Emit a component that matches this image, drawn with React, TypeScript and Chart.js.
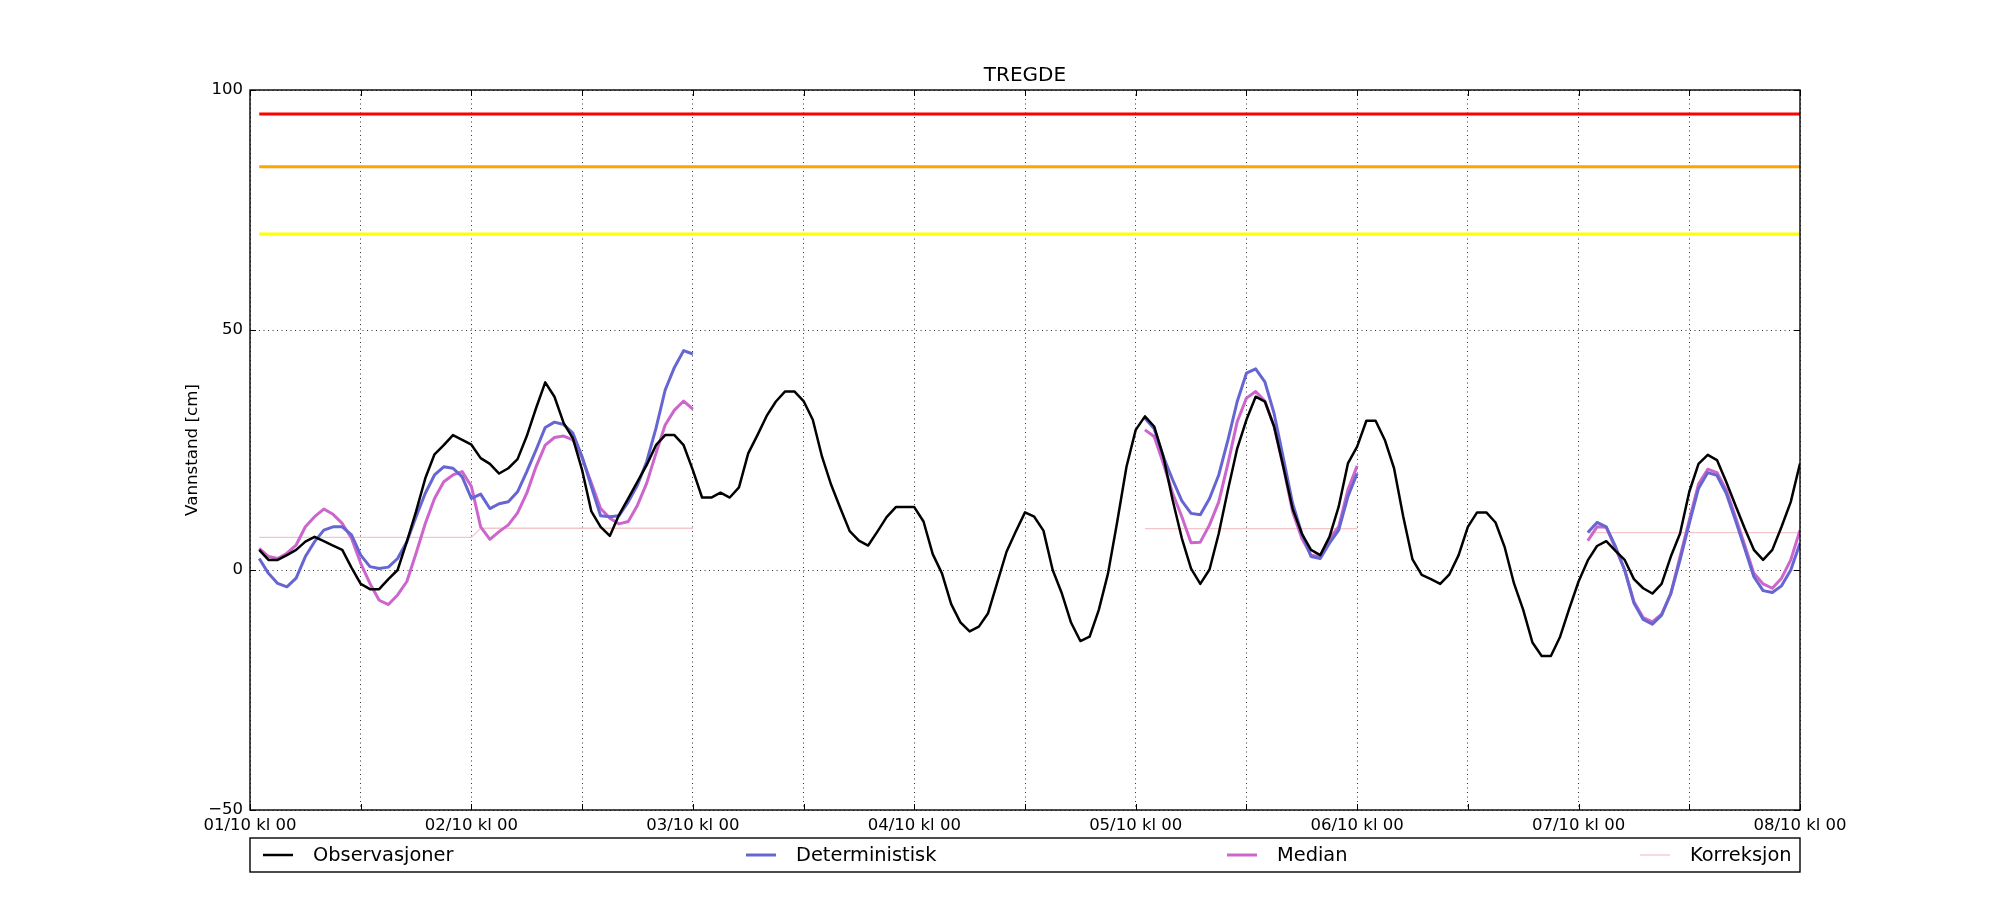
import { useEffect, useRef } from "react";
import { Chart, registerables } from "chart.js";

Chart.register(...registerables);

// x axis is hours since 01/10 kl 00
const dayLabels = [
	"01/10 kl 00",
	"02/10 kl 00",
	"03/10 kl 00",
	"04/10 kl 00",
	"05/10 kl 00",
	"06/10 kl 00",
	"07/10 kl 00",
	"08/10 kl 00",
];

const chartTitle = "TREGDE";
const yTitle = "Vannstand [cm]";

// hourly observations, hour 1 .. 168
const obsStart = 1;
const observasjoner = [
	4.2, 2.1, 2.1, 3.1, 4.2, 5.9, 6.9, 6.0, 5.1, 4.2,
	0.5, -2.9, -4.0, -4.0, -1.9, 0.0, 5.9, 12.2, 19.1, 24.1,
	26.0, 28.1, 27.1, 26.1, 23.3, 22.1, 20.1, 21.2, 23.1, 27.9,
	33.7, 39.1, 36.1, 30.6, 27.4, 20.8, 12.2, 9.0, 7.1, 11.5,
	14.9, 18.4, 21.9, 26.0, 28.1, 28.1, 26.0, 20.8, 15.1, 15.1,
	16.1, 15.1, 17.2, 24.3, 28.1, 32.1, 35.1, 37.2, 37.2, 35.2,
	31.3, 23.6, 17.7, 12.8, 8.1, 6.1, 5.1, 8.0, 11.0, 13.1,
	13.1, 13.1, 10.1, 3.3, -0.7, -7.1, -10.9, -12.8, -11.8, -9.0,
	-2.6, 3.8, 8.0, 12.0, 11.1, 8.2, 0.0, -4.9, -11.0, -14.8,
	-13.9, -8.3, -0.7, 10.1, 21.5, 29.2, 32.0, 29.9, 23.6, 14.6,
	6.6, 0.3, -2.9, 0.1, 7.6, 16.7, 25.3, 31.3, 36.1, 35.1,
	29.9, 21.5, 12.8, 7.6, 4.2, 3.1, 6.9, 13.2, 22.2, 25.7,
	31.1, 31.1, 27.1, 21.2, 11.1, 2.2, -1.0, -1.9, -2.9, -0.9,
	3.1, 9.0, 12.0, 12.0, 9.9, 4.7, -2.8, -8.3, -15.1, -17.9,
	-17.9, -13.9, -8.0, -2.4, 2.0, 5.0, 6.0, 4.0, 2.1, -1.9,
	-3.8, -4.9, -2.9, 2.8, 7.6, 16.3, 22.1, 24.0, 22.9, 18.4,
	13.5, 8.7, 4.2, 2.1, 4.2, 9.0, 14.2, 22.2,
];

// forecast runs: start hours
const seg1Start = 1;
const seg2Start = 97;
const seg3Start = 145;

const deterministiskSeg1 = [
	2.4, -0.7, -2.8, -3.5, -1.7, 2.8, 5.9, 8.3, 9.0, 9.0,
	7.3, 3.1, 0.7, 0.3, 0.6, 2.4, 5.9, 11.1, 16.0, 19.8,
	21.5, 21.2, 19.4, 14.9, 15.8, 12.8, 13.8, 14.2, 16.3, 20.5,
	25.0, 29.7, 30.8, 30.3, 28.5, 23.6, 17.4, 11.3, 11.1, 11.3,
	14.2, 17.7, 22.6, 29.5, 37.5, 42.2, 45.7, 45.0,
];
const deterministiskSeg2 = [
	31.6, 29.4, 23.6, 18.8, 14.4, 11.8, 11.5, 14.9, 19.8, 27.1,
	35.1, 41.0, 41.9, 39.2, 32.6, 23.3, 13.9, 7.6, 2.8, 2.4,
	5.6, 8.3, 15.3, 20.1,
];
const deterministiskSeg3 = [
	7.8, 9.9, 9.0, 4.9, 0.0, -6.9, -10.3, -11.3, -9.4, -4.9,
	2.1, 9.7, 17.0, 20.3, 19.7, 16.0, 10.4, 4.5, -1.4, -4.3,
	-4.7, -3.3, 0.0, 5.6,
];

const medianSeg1 = [
	4.5, 2.8, 2.4, 3.5, 5.2, 9.0, 11.1, 12.7, 11.6, 9.7,
	6.6, 1.4, -2.8, -6.3, -7.2, -5.2, -2.4, 3.5, 9.7, 14.9,
	18.4, 19.8, 20.5, 17.4, 9.0, 6.4, 8.0, 9.4, 11.9, 16.0,
	21.5, 26.0, 27.6, 27.9, 27.1, 23.3, 18.1, 12.8, 10.8, 9.6,
	10.1, 13.5, 18.1, 24.3, 30.2, 33.3, 35.2, 33.5,
];
const medianSeg2 = [
	29.2, 27.8, 22.2, 16.0, 11.1, 5.7, 5.8, 9.4, 14.2, 22.2,
	30.9, 35.8, 37.2, 35.2, 29.9, 21.5, 12.2, 6.6, 3.1, 2.8,
	6.6, 9.0, 16.7, 21.7,
];
const medianSeg3 = [
	6.1, 9.0, 8.9, 4.5, 0.0, -6.6, -9.9, -10.8, -9.2, -4.9,
	2.8, 10.4, 17.9, 21.0, 20.3, 16.7, 11.1, 5.2, -0.7, -2.9,
	-3.8, -1.7, 2.1, 8.3,
];

const korrSeg1Hours = [1, 24, 25, 48];
const korrSeg1 = [6.8, 6.8, 8.7, 8.7];
const korrSeg2Hours = [97, 120];
const korrSeg2 = [8.6, 8.6];
const korrSeg3Hours = [145, 168];
const korrSeg3 = [7.8, 7.8];

// warning levels (cm)
const thresholdHours = [1, 168];
const thresholdLevels = [95, 84, 70];
const thresholdColors = ["#ff0000", "#ffa500", "#ffff00"];

const FONT = "'DejaVu Sans', sans-serif";

type Pt = { x: number; y: number | null };

const run = (start: number, values: number[]): Pt[] =>
	values.map((v, i) => ({ x: start + i, y: v }));
const pairs = (hours: number[], values: number[]): Pt[] =>
	hours.map((h, i) => ({ x: h, y: values[i] }));
// join segments with a null point so the line breaks between runs
const joinRuns = (runs: Pt[][]): Pt[] => {
	const out: Pt[] = [];
	runs.forEach((r, i) => {
		if (i > 0) out.push({ x: r[0].x - 0.5, y: null });
		out.push(...r);
	});
	return out;
};

const legendX = [263, 746, 1227, 1640];

const decorPlugin = {
	id: "decor",
	afterDraw(chart: any) {
		const { ctx, chartArea: a, scales } = chart;
		ctx.save();
		ctx.strokeStyle = "#000";
		ctx.lineWidth = 1.4;
		ctx.strokeRect(a.left, a.top, a.right - a.left, a.bottom - a.top);

		// inward ticks, matplotlib classic style
		ctx.lineWidth = 1;
		ctx.beginPath();
		scales.x.ticks.forEach((t: any) => {
			const px = Math.round(scales.x.getPixelForValue(t.value)) + 0.5;
			ctx.moveTo(px, a.bottom);
			ctx.lineTo(px, a.bottom - 6);
			ctx.moveTo(px, a.top);
			ctx.lineTo(px, a.top + 6);
		});
		scales.y.ticks.forEach((t: any) => {
			const py = Math.round(scales.y.getPixelForValue(t.value)) + 0.5;
			ctx.moveTo(a.left, py);
			ctx.lineTo(a.left + 6, py);
			ctx.moveTo(a.right, py);
			ctx.lineTo(a.right - 6, py);
		});
		ctx.stroke();

		ctx.fillStyle = "#000";
		ctx.font = `20px ${FONT}`;
		ctx.textAlign = "center";
		ctx.textBaseline = "bottom";
		ctx.fillText(chartTitle, (a.left + a.right) / 2, a.top - 4);

		ctx.save();
		ctx.translate(193, (a.top + a.bottom) / 2);
		ctx.rotate(-Math.PI / 2);
		ctx.font = `16.7px ${FONT}`;
		ctx.textBaseline = "middle";
		ctx.fillText(yTitle, 0, 0);
		ctx.restore();

		// legend box below the x axis
		const top = 838;
		const bottom = 872;
		const mid = (top + bottom) / 2;
		ctx.lineWidth = 1.4;
		ctx.strokeRect(a.left, top, a.right - a.left, bottom - top);
		ctx.font = `19.4px ${FONT}`;
		ctx.textAlign = "left";
		ctx.textBaseline = "middle";
		chart.data.datasets.slice(0, 4).forEach((ds: any, i: number) => {
			const x0 = legendX[i];
			ctx.strokeStyle = ds.borderColor;
			ctx.lineWidth = ds.borderWidth;
			ctx.beginPath();
			ctx.moveTo(x0, mid);
			ctx.lineTo(x0 + 30, mid);
			ctx.stroke();
			ctx.fillStyle = "#000";
			ctx.fillText(ds.label, x0 + 50, mid + 1);
		});
		ctx.restore();
	},
};

export default function App() {
	const chartRef = useRef<HTMLCanvasElement>(null);

	useEffect(() => {
		if (!chartRef.current) return;

		const lineStyle = {
			pointRadius: 0,
			pointHoverRadius: 0,
			tension: 0,
			fill: false,
			spanGaps: false,
			borderJoinStyle: "round" as const,
		};

		const chart = new Chart(chartRef.current, {
			type: "line",
			data: {
				datasets: [
					{
						label: "Observasjoner",
						data: run(obsStart, observasjoner),
						borderColor: "#000000",
						borderWidth: 2.5,
						...lineStyle,
					},
					{
						label: "Deterministisk",
						data: joinRuns([
							run(seg1Start, deterministiskSeg1),
							run(seg2Start, deterministiskSeg2),
							run(seg3Start, deterministiskSeg3),
						]),
						borderColor: "#6666d2",
						borderWidth: 3,
						...lineStyle,
					},
					{
						label: "Median",
						data: joinRuns([
							run(seg1Start, medianSeg1),
							run(seg2Start, medianSeg2),
							run(seg3Start, medianSeg3),
						]),
						borderColor: "#cc66cc",
						borderWidth: 3,
						...lineStyle,
					},
					{
						label: "Korreksjon",
						data: joinRuns([
							pairs(korrSeg1Hours, korrSeg1),
							pairs(korrSeg2Hours, korrSeg2),
							pairs(korrSeg3Hours, korrSeg3),
						]),
						borderColor: "#f3c6cc",
						borderWidth: 1.3,
						...lineStyle,
					},
					...thresholdLevels.map((level, i) => ({
						label: `terskel ${level}`,
						data: thresholdHours.map((h) => ({ x: h, y: level })),
						borderColor: thresholdColors[i],
						borderWidth: 3,
						...lineStyle,
					})),
				],
			},
			options: {
				animation: false,
				responsive: true,
				maintainAspectRatio: false,
				devicePixelRatio: 1,
				layout: { padding: { left: 0, right: 200, top: 90, bottom: 0 } },
				plugins: {
					legend: { display: false },
					title: { display: false },
					tooltip: { enabled: false },
				},
				scales: {
					x: {
						type: "linear",
						min: 0,
						max: 168,
						afterFit: (scale: any) => {
							scale.height = 90;
						},
						ticks: {
							stepSize: 12,
							autoSkip: false,
							maxRotation: 0,
							padding: 6,
							color: "#000",
							font: { family: FONT, size: 16.5 },
							callback: (v: any) =>
								Number(v) % 24 === 0 ? dayLabels[Number(v) / 24] : "",
						},
						grid: {
							color: "rgba(0,0,0,0.8)",
							lineWidth: 1,
							drawTicks: false,
						},
						border: { display: false, dash: [1, 3.5] },
					},
					y: {
						min: -50,
						max: 100,
						afterFit: (scale: any) => {
							scale.width = 250;
						},
						ticks: {
							stepSize: 50,
							padding: 7,
							color: "#000",
							font: { family: FONT, size: 16.5 },
							callback: (v: any) =>
								Number(v) < 0 ? "\u2212" + Math.abs(Number(v)) : String(v),
						},
						grid: {
							color: "rgba(0,0,0,0.8)",
							lineWidth: 1,
							drawTicks: false,
						},
						border: { display: false, dash: [1, 3.5] },
					},
				},
			},
			plugins: [decorPlugin],
		});

		return () => {
			chart.destroy();
		};
	}, []);

	return (
		<div
			style={{
				position: "fixed",
				left: 0,
				top: 0,
				width: 2000,
				height: 900,
				background: "#fff",
			}}
		>
			<canvas ref={chartRef}></canvas>
		</div>
	);
}
